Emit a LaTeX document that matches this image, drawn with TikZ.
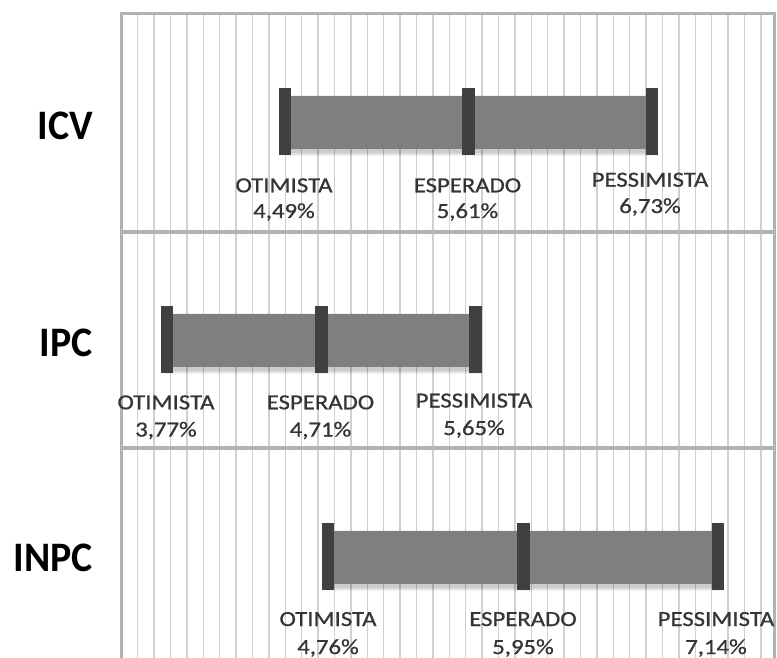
\documentclass[tikz,border=0pt]{standalone}
\usepackage{fontspec}
\setmainfont{Carlito}
\newfontfamily\labfont{Carlito}[FakeBold=0.7]
\usetikzlibrary{calc}
\definecolor{gridc}{RGB}{208,208,208}
\definecolor{framec}{RGB}{178,178,178}
\definecolor{barc}{RGB}{127,127,127}
\definecolor{capc}{RGB}{64,64,64}
\definecolor{labc}{RGB}{52,52,52}
\newcommand{\sxl}[1]{\scalebox{1.15}[1]{#1}}
\newcommand{\sxc}[1]{\scalebox{0.95}[1]{#1}}
\begin{document}
\begin{tikzpicture}[x=1pt,y=-1pt,
  gridline/.style={draw=gridc,line width=1.3pt},
  frameline/.style={draw=framec,line width=3.5pt},
  capnode/.style={fill=capc,minimum width=12.5pt,minimum height=67pt,inner sep=0pt,draw=none},
  barfill/.style={fill=barc},
  shadowfill/.style={fill=black,opacity=0.05},
  lab/.style={anchor=base,inner sep=0pt,text=labc,font=\labfont\fontsize{21.5}{25}\selectfont},
  cat/.style={anchor=base east,inner sep=0pt,text=black,font=\bfseries\fontsize{42}{48}\selectfont}]
\useasboundingbox (0,0) rectangle (777,658);
\fill[white] (0,0) rectangle (777,658);
% grid
\foreach \k in {0,...,38}
  \draw[gridline] ({137.7+16.4*\k},13.5) -- ({137.7+16.4*\k},660);
% frame
\draw[frameline] (121.5,660) |- (774.5,13.5) -- (774.5,660);
\draw[frameline] (121.5,232) -- (774.5,232);
\draw[frameline] (121.5,448) -- (774.5,448);
% cap nodes
\node[capnode] (a1) at (285,121.5) {};
\node[capnode] (a2) at (468.5,121.5) {};
\node[capnode] (a3) at (652,121.5) {};
\node[capnode] (b1) at (167,339.7) {};
\node[capnode] (b2) at (321.5,339.7) {};
\node[capnode] (b3) at (475.5,339.7) {};
\node[capnode] (c1) at (328,556.5) {};
\node[capnode] (c2) at (523.5,556.5) {};
\node[capnode] (c3) at (718,556.5) {};
% bars with soft shadow
\foreach \l/\r in {a1/a3,b1/b3,c1/c3}{
  \foreach \d in {1,2,3,4}
    \fill[shadowfill] ($(\l.center)+({2-\d},{-25.5+3-\d})$) rectangle ($(\r.center)+({2+\d},{27.5+3+\d})$);
  \fill[barfill] ($(\l.center)+(0,-25.5)$) rectangle ($(\r.center)+(0,27.5)$);
}
% redraw caps on top
\foreach \n in {a1,a2,a3,b1,b2,b3,c1,c2,c3}
  \fill[capc] (\n.south west) rectangle (\n.north east);
% category labels
\node[cat] (lICV) at (93,139.3) {\sxc{ICV}};
\node[cat] (lIPC) at (93,356.7) {\sxc{IPC}};
\node[cat] (lINPC) at (93,571.7) {\sxc{INPC}};
% data labels ICV
\node[lab] (ta1) at (284,192.3) {\sxl{OTIMISTA}};
\node[lab] (va1) at (284,218) {\sxl{4,49\%}};
\node[lab] (ta2) at (467.5,192.3) {\sxl{ESPERADO}};
\node[lab] (va2) at (467.5,218) {\sxl{5,61\%}};
\node[lab] (ta3) at (650,186.7) {\sxl{PESSIMISTA}};
\node[lab] (va3) at (650,213) {\sxl{6,73\%}};
% data labels IPC
\node[lab] (tb1) at (166,409.3) {\sxl{OTIMISTA}};
\node[lab] (vb1) at (166,436.5) {\sxl{3,77\%}};
\node[lab] (tb2) at (320.5,409.3) {\sxl{ESPERADO}};
\node[lab] (vb2) at (320.5,436.5) {\sxl{4,71\%}};
\node[lab] (tb3) at (474,407.5) {\sxl{PESSIMISTA}};
\node[lab] (vb3) at (474,435) {\sxl{5,65\%}};
% data labels INPC
\node[lab] (tc1) at (328,626) {\sxl{OTIMISTA}};
\node[lab] (vc1) at (328,654) {\sxl{4,76\%}};
\node[lab] (tc2) at (523,626) {\sxl{ESPERADO}};
\node[lab] (vc2) at (523,654) {\sxl{5,95\%}};
\node[lab] (tc3) at (716,626) {\sxl{PESSIMISTA}};
\node[lab] (vc3) at (716,654) {\sxl{7,14\%}};
\end{tikzpicture}
\end{document}
